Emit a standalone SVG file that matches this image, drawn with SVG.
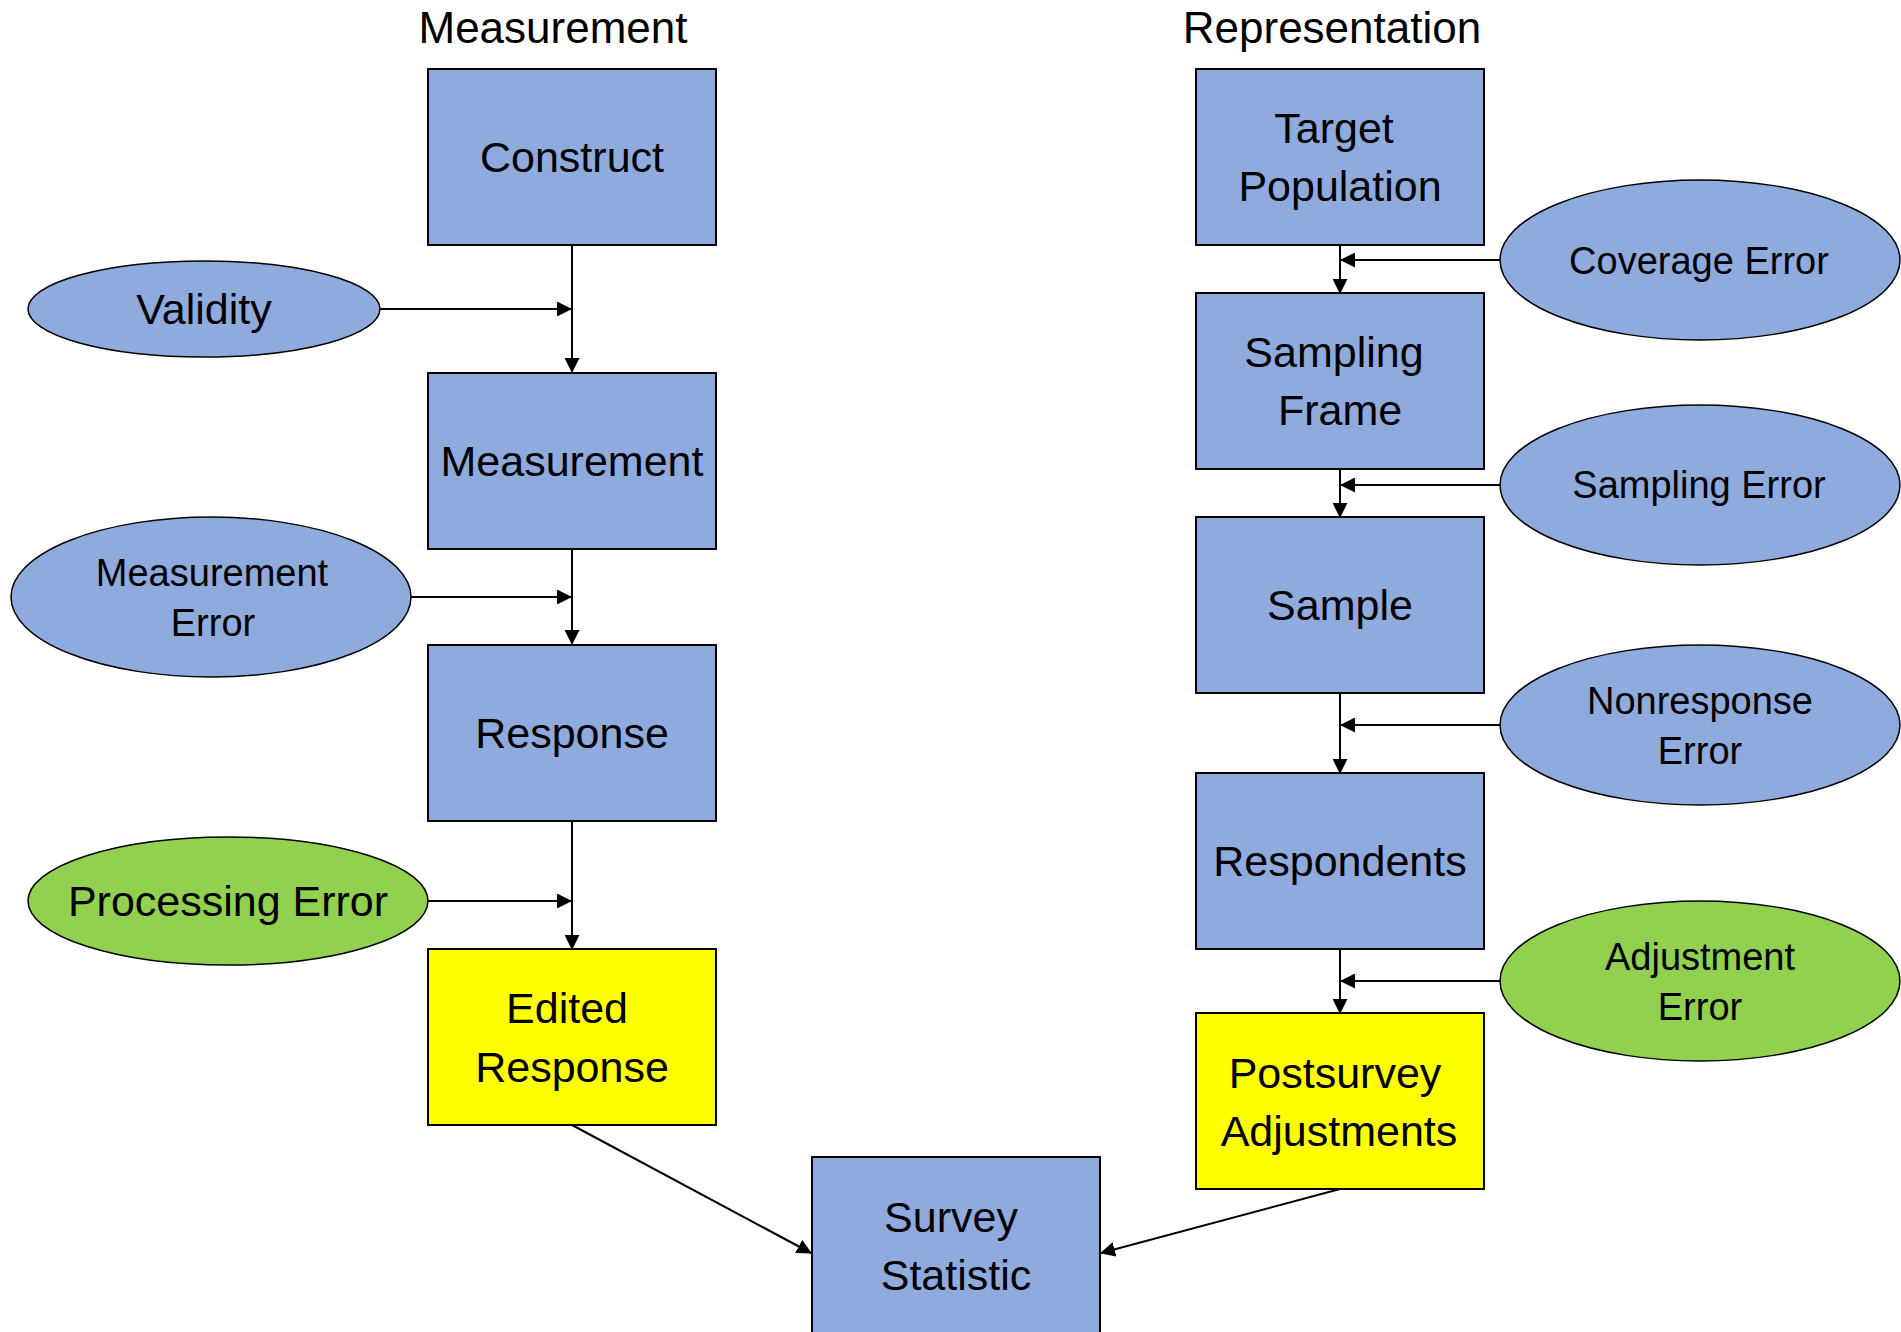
<svg xmlns="http://www.w3.org/2000/svg" width="1901" height="1332" viewBox="0 0 1901 1332">
<style>
text{font-family:"Liberation Sans",Arial,sans-serif;fill:#000;text-anchor:middle}
.t{font-size:44px}
.b{font-size:43px}
.e{font-size:38px}
.eb{font-size:43px}
.blue{fill:#8FAADC;stroke:#000;stroke-width:2}
.yel{fill:#FFFF00;stroke:#000;stroke-width:2}
.ell{fill:#8FAADC;stroke:#000;stroke-width:1.5}
.grn{fill:#92D050;stroke:#000;stroke-width:1.5}
.c{stroke:#000;stroke-width:2;fill:none;marker-end:url(#ah)}
</style>
<defs>
<marker id="ah" markerUnits="userSpaceOnUse" markerWidth="15" markerHeight="15" refX="14" refY="7.5" orient="auto">
<path d="M0,0 L15,7.5 L0,15 z" fill="#000"/>
</marker>
</defs>
<rect width="1901" height="1332" fill="#fff"/>
<g id="titles">
<text class="t" x="553" y="43">Measurement</text>
<text class="t" x="1332" y="43">Representation</text>
</g>
<g id="connectors">
<line class="c" x1="572" y1="245" x2="572" y2="372"/>
<line class="c" x1="380" y1="309" x2="571" y2="309"/>
<line class="c" x1="572" y1="549" x2="572" y2="644"/>
<line class="c" x1="411" y1="597" x2="571" y2="597"/>
<line class="c" x1="572" y1="821" x2="572" y2="949"/>
<line class="c" x1="428" y1="901" x2="571" y2="901"/>
<line class="c" x1="572" y1="1125" x2="811" y2="1253"/>
<line class="c" x1="1340" y1="1189" x2="1101" y2="1253"/>
<line class="c" x1="1340" y1="245" x2="1340" y2="293"/>
<line class="c" x1="1500" y1="260" x2="1341" y2="260"/>
<line class="c" x1="1340" y1="469" x2="1340" y2="517"/>
<line class="c" x1="1500" y1="485" x2="1341" y2="485"/>
<line class="c" x1="1340" y1="693" x2="1340" y2="773"/>
<line class="c" x1="1500" y1="725" x2="1341" y2="725"/>
<line class="c" x1="1340" y1="949" x2="1340" y2="1013"/>
<line class="c" x1="1500" y1="981" x2="1341" y2="981"/>
</g>
<g id="construct"><rect class="blue" x="428" y="69" width="288" height="176"/><text class="b" x="572" y="172">Construct</text></g>
<g id="measurement"><rect class="blue" x="428" y="373" width="288" height="176"/><text class="b" x="572" y="476">Measurement</text></g>
<g id="response"><rect class="blue" x="428" y="645" width="288" height="176"/><text class="b" x="572" y="748">Response</text></g>
<g id="edited-response"><rect class="yel" x="428" y="949" width="288" height="176"/><text class="b" x="567" y="1023">Edited</text><text class="b" x="572" y="1082">Response</text></g>
<g id="survey-statistic"><rect class="blue" x="812" y="1157" width="288" height="180"/><text class="b" x="951" y="1232">Survey</text><text class="b" x="956" y="1290">Statistic</text></g>
<g id="validity"><ellipse class="ell" cx="204" cy="309" rx="176" ry="48"/><text class="eb" x="204" y="324">Validity</text></g>
<g id="measurement-error"><ellipse class="ell" cx="211" cy="597" rx="200" ry="80"/><text class="e" x="212" y="586">Measurement</text><text class="e" x="213" y="636">Error</text></g>
<g id="processing-error"><ellipse class="grn" cx="228" cy="901" rx="200" ry="64"/><text class="eb" x="228" y="916">Processing Error</text></g>
<g id="target-population"><rect class="blue" x="1196" y="69" width="288" height="176"/><text class="b" x="1334" y="143">Target</text><text class="b" x="1340" y="201">Population</text></g>
<g id="sampling-frame"><rect class="blue" x="1196" y="293" width="288" height="176"/><text class="b" x="1334" y="367">Sampling</text><text class="b" x="1340" y="425">Frame</text></g>
<g id="sample"><rect class="blue" x="1196" y="517" width="288" height="176"/><text class="b" x="1340" y="620">Sample</text></g>
<g id="respondents"><rect class="blue" x="1196" y="773" width="288" height="176"/><text class="b" x="1340" y="876">Respondents</text></g>
<g id="postsurvey-adjustments"><rect class="yel" x="1196" y="1013" width="288" height="176"/><text class="b" x="1335" y="1088">Postsurvey</text><text class="b" x="1339" y="1146">Adjustments</text></g>
<g id="coverage-error"><ellipse class="ell" cx="1700" cy="260" rx="200" ry="80"/><text class="e" x="1699" y="274">Coverage Error</text></g>
<g id="sampling-error"><ellipse class="ell" cx="1700" cy="485" rx="200" ry="80"/><text class="e" x="1699" y="498">Sampling Error</text></g>
<g id="nonresponse-error"><ellipse class="ell" cx="1700" cy="725" rx="200" ry="80"/><text class="e" x="1700" y="714">Nonresponse</text><text class="e" x="1700" y="764">Error</text></g>
<g id="adjustment-error"><ellipse class="grn" cx="1700" cy="981" rx="200" ry="80"/><text class="e" x="1700" y="970">Adjustment</text><text class="e" x="1700" y="1020">Error</text></g>
</svg>
